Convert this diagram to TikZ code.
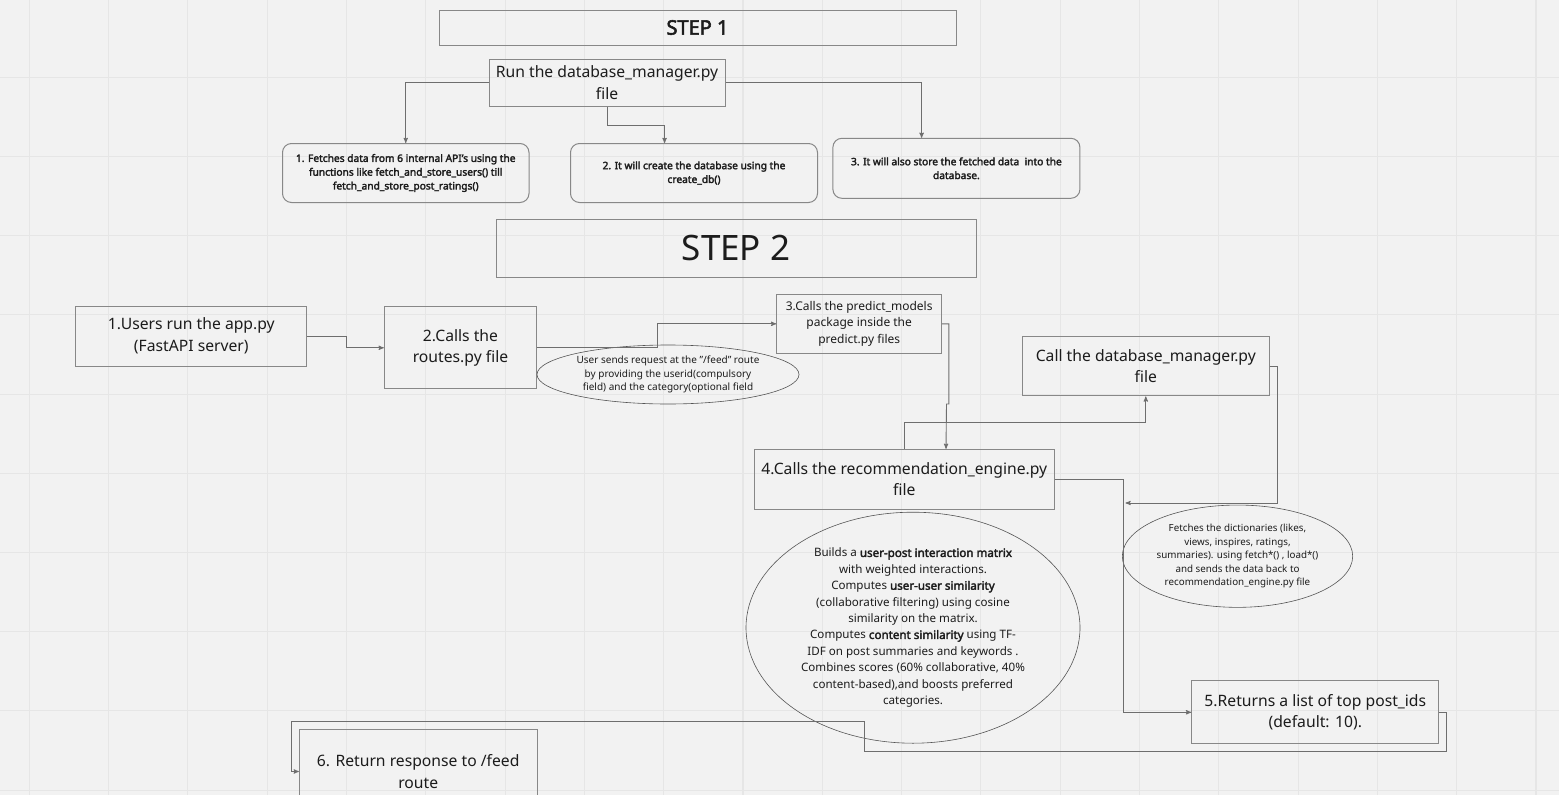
\documentclass[tikz,border=0pt]{standalone}
\usepackage{fontspec}
\setmainfont{Noto Sans}[AutoFakeBold=2.6]
\usepackage{tikz}
\usetikzlibrary{arrows,positioning,shapes}
\usetikzlibrary{calc}

\definecolor{paper}{HTML}{F2F2F2}
\definecolor{gridline}{HTML}{E6E6E6}
\definecolor{edge}{HTML}{888888}
\definecolor{wire}{HTML}{6E6E6E}
\definecolor{rim}{HTML}{555555}
\definecolor{ink}{HTML}{1C1C1C}

\begin{document}
\begin{tikzpicture}[x=1pt,y=-1pt,
  every node/.style={align=center,text=ink,inner sep=0pt},
  grid line/.style={draw=gridline,line width=1.1pt},
  titlebox/.style={draw=edge,line width=1pt},
  stepbox/.style={draw=edge,line width=1pt,rounded corners=9pt,
    font=\bfseries\fontsize{10.2}{13.8}\selectfont},
  filebox/.style={draw=edge,line width=1pt,font=\fontsize{15.7}{21.5}\selectfont},
  note/.style={draw=rim,line width=.6pt,ellipse},
  link/.style={->,>=stealth',draw=wire,line width=.9pt}]

    \useasboundingbox (0,0) rectangle (1559,795);
    \clip (0,0) rectangle (1559,795);
    \fill[paper] (0,0) rectangle (1559,795);
    \foreach \k in {0,...,19}
        \draw[grid line] (29.3+79.3*\k,0) -- (29.3+79.3*\k,795);
    \foreach \k in {1,...,10}
        \draw[grid line] (0,-1.9+79.2*\k) -- (1559,-1.9+79.2*\k);

    % step 1
    \node[titlebox,minimum width=517pt,minimum height=35pt,
        font=\bfseries\fontsize{20}{24}\selectfont] (step1) at (697.5,27.5) {STEP 1};
    \node[filebox,minimum width=236pt,minimum height=47pt] (runfile) at (607,82.5)
        {Run the database\_manager.py\\file};
    \node[stepbox,minimum width=246.5pt,minimum height=59pt] (fetchapi) at (405.75,173)
        {1. Fetches data from 6 internal API's using the\\functions like fetch\_and\_store\_users() till\\fetch\_and\_store\_post\_ratings()};
    \node[stepbox,minimum width=247pt,minimum height=59pt] (createdb) at (694,173)
        {2. It will create the database using the\\create\_db()};
    \node[stepbox,minimum width=247pt,minimum height=60pt] (storedb) at (956.4,168.3)
        {3. It will also store the fetched data\ \ into the\\database.};

    \draw[link] (runfile.west) -| (fetchapi.north);
    \draw[link] (runfile.south) -- ++(0,18.5) -| ([xshift=-29.4pt]createdb.north);
    \draw[link] (runfile.east) -| ([xshift=-34.8pt]storedb.north);

    % step 2
    \node[titlebox,minimum width=480pt,minimum height=58pt,
        font=\fontsize{35}{40}\selectfont] (step2) at (736,248) {STEP 2};
    \node[filebox,minimum width=230.7pt,minimum height=60pt] (users) at (191.3,336)
        {1.Users run the app.py\\(FastAPI server)};
    \node[filebox,minimum width=152.4pt,minimum height=82.3pt] (routes) at (460.5,347.8)
        {2.Calls the\\routes.py file};
    \node[note,minimum width=262pt,minimum height=59pt,
        font=\fontsize{10}{13.5}\selectfont] (request) at (668,374.5)
        {User sends request at the "/feed" route\\by providing the userid(compulsory\\field) and the category(optional field};
    \node[filebox,minimum width=165pt,minimum height=59pt,
        font=\fontsize{12}{16.2}\selectfont] (predict) at (859.2,323.8)
        {3.Calls the predict\_models\\package inside the\\predict.py files};
    \node[filebox,minimum width=247.6pt,minimum height=59.3pt] (dbcall) at (1145.8,366.3)
        {Call the database\_manager.py\\file};
    \node[filebox,minimum width=300pt,minimum height=59.7pt] (engine) at (904.3,479.2)
        {4.Calls the recommendation\_engine.py\\file};
    \node[note,minimum width=230.4pt,minimum height=102.3pt,
        font=\fontsize{9.8}{13.4}\selectfont] (dicts) at (1237.5,556.2)
        {Fetches the dictionaries (likes,\\views, inspires, ratings,\\summaries). using fetch*() , load*()\\and sends the data back to\\recommendation\_engine.py file};
    \node[note,minimum width=334pt,minimum height=231pt,
        font=\fontsize{11.6}{16.4}\selectfont] (scoring) at (913,627.7)
        {Builds a \textbf{user-post interaction matrix}\\with weighted interactions.\\Computes \textbf{user-user similarity}\\(collaborative filtering) using cosine\\similarity on the matrix.\\Computes \textbf{content similarity} using TF-\\IDF on post summaries and keywords .\\Combines scores (60\% collaborative, 40\%\\content-based),and boosts preferred\\categories.};
    \node[filebox,minimum width=247.3pt,minimum height=62.7pt] (topposts) at (1315.3,712.3)
        {5.Returns a list of top post\_ids\\(default: 10).};
    \node[filebox,minimum width=237.6pt,minimum height=84.4pt] (response) at (418.2,771.5)
        {6. Return response to /feed\\route};
    \coordinate (merge) at (1125.5,503);

    \draw[link] (users.east) -- ++(38.8,0) |- (routes.west);
    \draw[link] (routes.east) -- ++(120,0) |- (predict.west);
    \draw[link] (predict.east) -- ++(6.6,0) -- ++(0,80.2) -- ++(-2.3,0) -- ([xshift=41.7pt]engine.north);
    \draw[link] (engine.north) -- ++(0,-26.6) -| (dbcall.south);
    \draw[link] (dbcall.east) -- ++(7.7,0) |- (merge);
    \draw[link] (engine.east) -- ++(68.4,0) |- (topposts.west);
    \draw[link] (topposts.east) -- ++(7.4,0) -- ++(0,38.7) -| (864,721.7)
        -| ([xshift=-7.8pt]response.west) -- (response.west);
\end{tikzpicture}
\end{document}
